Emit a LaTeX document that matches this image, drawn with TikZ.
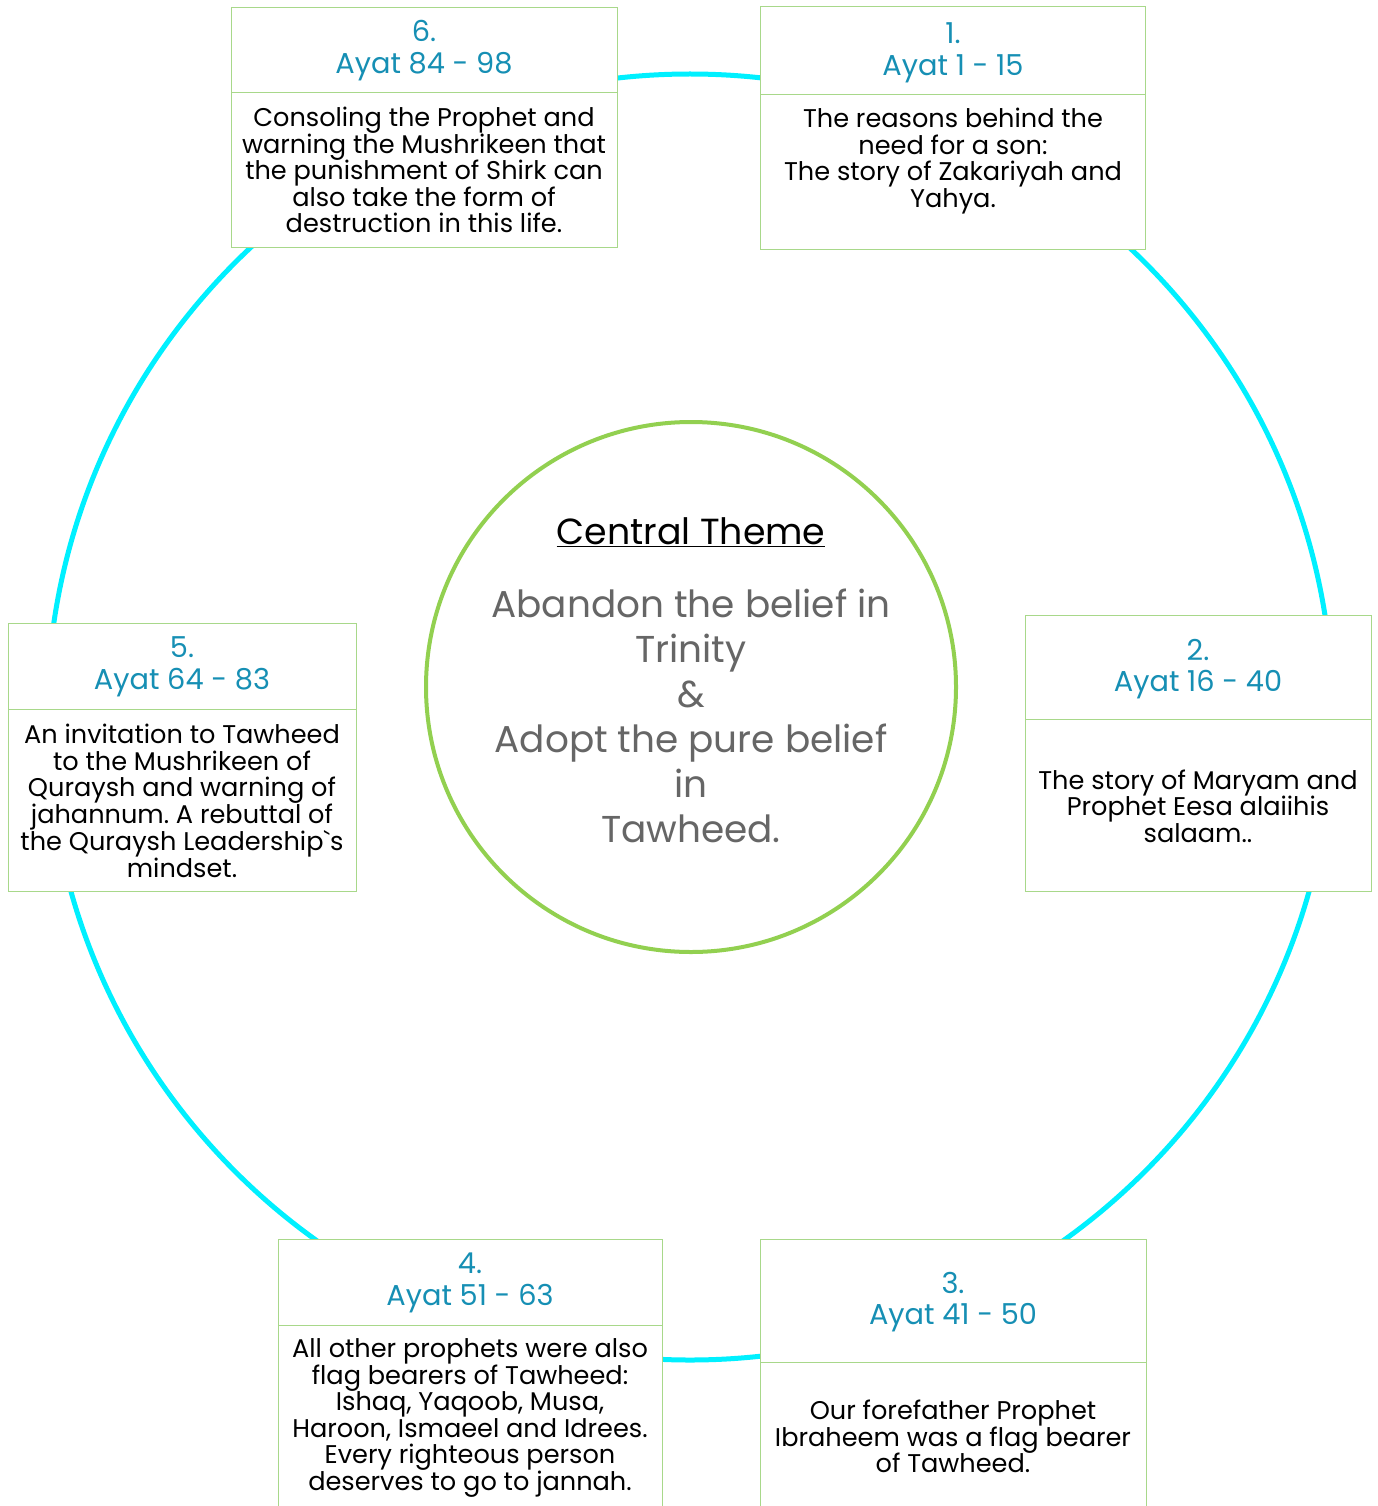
\documentclass[tikz,border=0pt]{standalone}
\usepackage{fontspec}
\setmainfont{Poppins}
\newfontfamily\rawpop{Poppins}
\definecolor{ringcyan}{RGB}{0,240,255}
\definecolor{coregreen}{RGB}{146,208,80}
\definecolor{boxgreen}{RGB}{168,216,138}
\definecolor{headblue}{RGB}{22,143,180}
\definecolor{coregray}{RGB}{102,102,102}
\begin{document}
\frenchspacing
\begin{tikzpicture}[x=1pt,y=-1pt,
  ring/.style={draw=ringcyan,line width=5pt},
  corering/.style={circle,draw=coregreen,line width=4pt,fill=white,minimum size=530pt,inner sep=0pt},
  panel/.style={rectangle,draw=boxgreen,line width=1.2pt,fill=white,inner sep=0pt,anchor=north west},
  headtext/.style={align=center,inner sep=0pt,text=headblue,font=\fontsize{28.8}{31.5}\selectfont},
  bodytext/.style={align=center,inner sep=0pt,text=black,font=\fontsize{25.6}{26.5}\selectfont},
  coretitle/.style={align=center,inner sep=0pt,text=black,font=\fontsize{36.3}{40}\selectfont},
  coretext/.style={align=center,inner sep=0pt,text=coregray,font=\fontsize{37.4}{45}\selectfont}]
\clip (0,0) rectangle (1377,1506);
\fill[white] (0,0) rectangle (1377,1506);
\coordinate (rc) at (690,717);
\draw[ring] (rc) circle[radius=643];
\node[corering] (core) at (691,687) {};
\node[coretitle] (ct) at (691,532) {\underline{Central Theme}};
\node[coretext] (cb) at (691,716) {Abandon the belief in\\Trinity\\\&\\Adopt the pure belief\\in\\Tawheed.};
% box 6
\node[panel,minimum width=386pt,minimum height=85pt] (h6) at (231,7) {};
\node[panel,minimum width=386pt,minimum height=155pt] (b6) at (231,92) {};
\node[headtext] (t6) at (424,50.5) {6.\\Ayat 84 - 98};
\node[bodytext] (d6) at (424,170) {Consoling the Prophet and\\warning the Mushrikeen that\\the punishment of Shirk can\\also take the form of\\destruction in this life.};
% box 1
\node[panel,minimum width=385pt,minimum height=88pt] (h1) at (760,6) {};
\node[panel,minimum width=385pt,minimum height=155pt] (b1) at (760,94) {};
\node[headtext] (t1) at (953,53) {1.\\Ayat 1 - 15};
\node[bodytext] (d1) at (953,161) {The reasons behind the\\need for a son:\\The story of Zakariyah and\\Yahya.};
% box 5
\node[panel,minimum width=348pt,minimum height=86pt] (h5) at (8,623) {};
\node[panel,minimum width=348pt,minimum height=182pt] (b5) at (8,709) {};
\node[headtext] (t5) at (182,667) {5.\\Ayat 64 - 83};
\node[bodytext] (d5) at (182,801) {An invitation to Tawheed\\to the Mushrikeen of\\Quraysh and warning of\\jahannum. A rebuttal of\\the Quraysh Leadership{\rawpop`}s\\mindset.};
% box 2
\node[panel,minimum width=346pt,minimum height=104pt] (h2) at (1025,615) {};
\node[panel,minimum width=346pt,minimum height=172pt] (b2) at (1025,719) {};
\node[headtext] (t2) at (1198,669) {2.\\Ayat 16 - 40};
\node[bodytext] (d2) at (1198,806) {The story of Maryam and\\Prophet Eesa alaiihis\\salaam..};
% box 4
\node[panel,minimum width=384pt,minimum height=86pt] (h4) at (278,1239) {};
\node[panel,minimum width=384pt,minimum height=200pt] (b4) at (278,1325) {};
\node[headtext] (t4) at (470,1283) {4.\\Ayat 51 - 63};
\node[bodytext] (d4) at (470,1418) {All other prophets were also\\flag bearers of Tawheed:\\Ishaq, Yaqoob, Musa,\\Haroon, Ismaeel and Idrees.\\Every righteous person\\deserves to go to jannah.};
% box 3
\node[panel,minimum width=386pt,minimum height=123pt] (h3) at (760,1239) {};
\node[panel,minimum width=386pt,minimum height=160pt] (b3) at (760,1362) {};
\node[headtext] (t3) at (953,1302) {3.\\Ayat 41 - 50};
\node[bodytext] (d3) at (953,1436.5) {Our forefather Prophet\\Ibraheem was a flag bearer\\of Tawheed.};
\end{tikzpicture}
\end{document}
